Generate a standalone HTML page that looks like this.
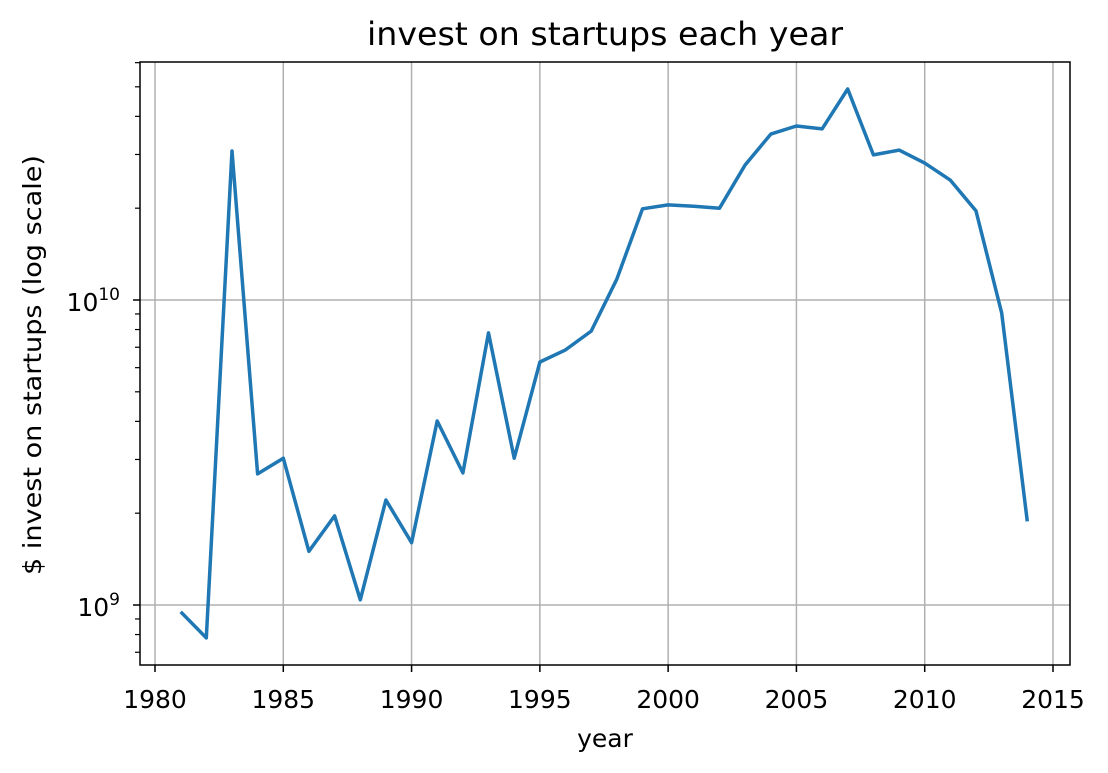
<!DOCTYPE html>
<html><head><meta charset="utf-8"><style>
html,body{margin:0;padding:0;background:#fff;}
svg{display:block;font-family:"DejaVu Sans","Liberation Sans",sans-serif;}
</style></head><body>
<svg id="chart" width="1108" height="773">
<text x="605" y="45" font-size="32" text-anchor="middle" textLength="476" lengthAdjust="spacingAndGlyphs">invest on startups each year</text>
<g id="grid"></g>
<g id="series"></g>
<rect x="140" y="62" width="930" height="603" fill="none" stroke="#000" stroke-width="1.5"/>
<g id="axes"></g>
<text x="605" y="747" font-size="25" text-anchor="middle">year</text>
<text transform="translate(41,365) rotate(-90)" font-size="25" text-anchor="middle" textLength="420" lengthAdjust="spacingAndGlyphs">$ invest on startups (log scale)</text>
</svg>
<script>
const years=[1981,1982,1983,1984,1985,1986,1987,1988,1989,1990,1991,1992,1993,1994,1995,1996,1997,1998,1999,2000,2001,2002,2003,2004,2005,2006,2007,2008,2009,2010,2011,2012,2013,2014];
const invest=[0.95e9,0.78e9,3.08e10,2.69e9,3.03e9,1.50e9,1.96e9,1.04e9,2.21e9,1.60e9,4.01e9,2.71e9,7.8e9,3.03e9,6.26e9,6.86e9,7.91e9,1.17e10,1.99e10,2.05e10,2.03e10,2.0e10,2.77e10,3.50e10,3.72e10,3.64e10,4.92e10,2.99e10,3.10e10,2.81e10,2.47e10,1.96e10,9.06e9,1.88e9];
const xTicks=[1980,1985,1990,1995,2000,2005,2010,2015];
const yMajor=[1e9,1e10];
const yMinor=[7e8,8e8,9e8,2e9,3e9,4e9,5e9,6e9,7e9,8e9,9e9,2e10,3e10,4e10,5e10,6e10];
const NS='http://www.w3.org/2000/svg';
const X=v=>155+(v-1980)*(898/35);
const Y=v=>300-305*Math.log10(v/1e10);
const L=140,R=1070,T=62,B=665;
const grid=document.getElementById('grid'),axes=document.getElementById('axes'),ser=document.getElementById('series');
function mk(tag,attrs,parent){const e=document.createElementNS(NS,tag);for(const k in attrs)e.setAttribute(k,attrs[k]);parent.appendChild(e);return e;}
xTicks.forEach(t=>{const x=X(t);
 const g=mk('line',{x1:x,x2:x,y1:T,y2:B,stroke:'#b0b0b0','stroke-width':1.5},grid);
 
 
 const tk=mk('line',{x1:x,x2:x,y1:B,y2:B+7,stroke:'#000','stroke-width':1.5},axes);
 
 
 const tx=mk('text',{x:x,y:B+43,'font-size':25,'text-anchor':'middle'},axes);tx.textContent=t;
 
 
});
yMajor.forEach(v=>{const y=Y(v);
 const g=mk('line',{x1:L,x2:R,y1:y,y2:y,stroke:'#b0b0b0','stroke-width':1.5},grid);
 
 
 const tk=mk('line',{x1:L-7,x2:L,y1:y,y2:y,stroke:'#000','stroke-width':1.5},axes);
 
 
 const tx=mk('text',{x:L-20,y:y+11,'font-size':25,'text-anchor':'end'},axes);
 const e=Math.round(Math.log10(v));
 tx.innerHTML='10<tspan dy="-11" font-size="17">'+e+'</tspan>';
 
 
});
yMinor.forEach(v=>{const y=Y(v);if(y<T||y>B)return;
 const tk=mk('line',{x1:L-5,x2:L,y1:y,y2:y,stroke:'#000','stroke-width':1.2},axes);
 
 
});
const pts=years.map((yr,i)=>X(yr).toFixed(1)+','+Y(invest[i]).toFixed(1)).join(' ');
const pl=mk('polyline',{points:pts,fill:'none',stroke:'#1f77b4','stroke-width':3.5,'stroke-linejoin':'round'},ser);


</script>
</body></html>
